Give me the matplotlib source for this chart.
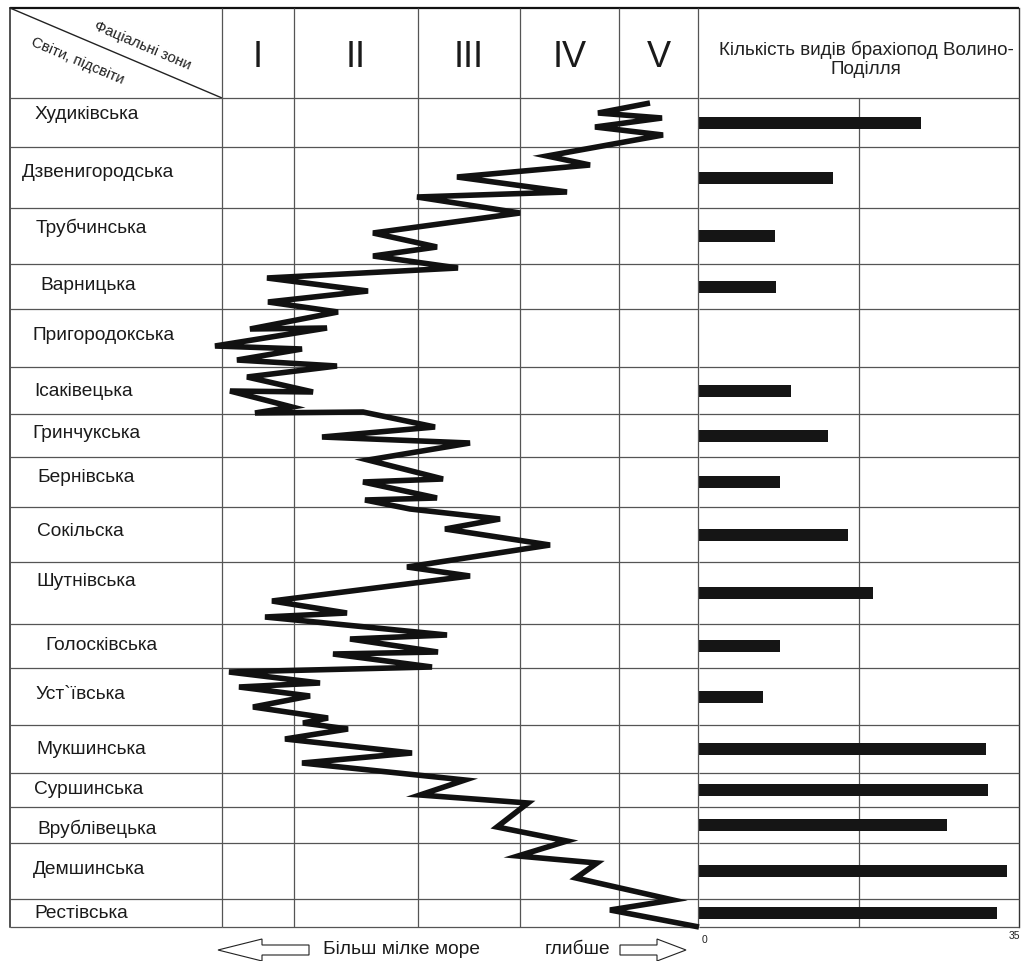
import matplotlib
matplotlib.use('Agg')
import matplotlib.pyplot as plt
from matplotlib.patches import Polygon

plt.rcParams['font.family'] = ['Liberation Sans', 'DejaVu Sans']

# ---------------- data ----------------
formations = ['Худиківська', 'Дзвенигородська', 'Трубчинська', 'Варницька',
              'Пригородокська', 'Ісаківецька', 'Гринчукська', 'Бернівська',
              'Сокільска', 'Шутнівська', 'Голосківська', 'Уст`ївська',
              'Мукшинська', 'Суршинська', 'Врублівецька', 'Демшинська', 'Рестівська']
# stratigraphic scale (top = 0), boundaries between formations
row_edges = [0, 49, 110, 166, 211, 269, 316, 359, 409, 464, 526, 570,
             627, 675, 709, 745, 801, 829]
# number of brachiopod species (scale 0..35)
species = [24.3, 14.7, 8.3, 8.4, 0, 10.1, 14.1, 8.9, 16.3, 19.0, 8.9, 7.0,
           31.4, 31.6, 27.1, 33.7, 32.6]
zones = ['I', 'II', 'III', 'IV', 'V']
zone_edges = [0, 72, 196, 298, 397, 476]      # relative depth scale of facies zones
# facies curve (relative depth, stratigraphic position)
curve_x = [428, 376, 440, 373, 441, 325, 368, 235, 345, 195, 298, 151, 215, 151,
           236, 45, 146, 46, 116, 28, 105, -7, 80, 15, 115, 25, 91, 8, 70, 33,
           141, 213, 100, 248, 146, 221, 141, 215, 143, 188, 278, 223, 328, 185,
           248, 50, 125, 43, 225, 128, 216, 111, 210, 7, 98, 17, 88, 31, 106, 81,
           126, 63, 190, 80, 243, 198, 306, 275, 345, 296, 375, 354, 451, 388, 477]
curve_y = [5, 15, 20, 29, 37, 58, 67, 79, 94, 99, 115, 135, 149, 158,
           170, 180, 193, 204, 214, 231, 230, 248, 251, 262, 268, 279, 294, 293, 309, 315,
           314, 329, 339, 345, 362, 381, 384, 400, 402, 411, 421, 431, 447, 469,
           478, 503, 515, 519, 537, 541, 554, 556, 569, 574, 585, 589, 598, 609, 620, 625,
           631, 641, 655, 665, 682, 697, 705, 729, 743, 758, 765, 780, 802, 812, 829]
species_max = 35

# ---------------- layout ----------------
W, H = 1023, 961
fig = plt.figure(figsize=(W / 100, H / 100), dpi=100)
fig.patch.set_facecolor('white')

def px_axes(x0, y0, x1, y1, z=1):
    ax = fig.add_axes([x0 / W, 1 - y1 / H, (x1 - x0) / W, (y1 - y0) / H], zorder=z)
    ax.set_facecolor('none')
    ax.set_xticks([]); ax.set_yticks([])
    for s in ax.spines.values():
        s.set_visible(False)
    return ax

TOP, HB, BOT, L, R, ZL, ZR, BL = 8, 98, 927, 10, 1019, 222, 698, 699
HDR = HB - TOP
GRID = '#555555'
GLW = 0.9
FS = 13.8

lay = px_axes(0, 0, W, H, z=0)
lay.set_xlim(0, W); lay.set_ylim(H, 0)

ax_n = px_axes(L, HB, ZL, BOT, z=2)
ax_z = px_axes(ZL, HB, ZR, BOT, z=3)
ax_b = px_axes(BL, HB, R, BOT, z=2)
total = row_edges[-1]
for ax in (ax_n, ax_z, ax_b):
    ax.set_ylim(total, 0)
ax_n.set_xlim(0, ZL - L)
ax_z.set_xlim(zone_edges[0], zone_edges[-1])
ax_b.set_xlim(0, species_max)

# outer frame & header
lay.plot([L, R], [TOP, TOP], color='#111111', lw=1.6, solid_capstyle='butt')
lay.plot([L, L], [TOP, BOT], color='#222222', lw=1.1)
lay.plot([R, R], [TOP, BOT], color='#333333', lw=1.0)
lay.plot([L, ZL], [TOP, HB], color='#222222', lw=1.0)

# row lines
for ax in (ax_n, ax_z, ax_b):
    ax.hlines(row_edges, *ax.get_xlim(), color=GRID, lw=GLW, clip_on=False)

# zone column lines (extend into header)
ax_z.vlines(zone_edges, -HDR, total, color=GRID, lw=GLW, clip_on=False)
ax_b.axvline(species_max / 2, color=GRID, lw=GLW)

# zone labels
zcent = [(a + b) / 2 for a, b in zip(zone_edges[:-1], zone_edges[1:])]
for zc, zl in zip(zcent, zones):
    ax_z.text(zc, -HDR / 2 + 4, zl, ha='center', va='center', fontsize=26,
              color='#1a1a1a', clip_on=False)

# header texts
lay.text(142, 46, 'Фаціальні зони', rotation=-23, rotation_mode='anchor',
         ha='center', va='center', fontsize=10.8, color='#222222')
lay.text(78, 61, 'Світи, підсвіти', rotation=-23, rotation_mode='anchor',
         ha='center', va='center', fontsize=10.8, color='#222222')
ax_b.text(species_max / 2 + 0.8, -HDR / 2 + 6, 'Кількість видів брахіопод Волино-\nПоділля',
          ha='center', va='center', fontsize=13.6, color='#222222', linespacing=1.15,
          clip_on=False)

# formation names
name_x = [25, 12, 26, 30, 23, 24, 22, 27, 27, 26, 35, 25, 26, 24, 27, 23, 24]
name_dy = [-8, -5, -8, -1, -3, 1, -2, -5, -3, -12, 0, -2, 0, 0, 4, -2, 1]
for i, nm in enumerate(formations):
    yc = (row_edges[i] + row_edges[i + 1]) / 2 + name_dy[i]
    ax_n.text(name_x[i], yc, nm, ha='left', va='center', fontsize=FS, color='#1a1a1a')

# facies curve
ax_z.plot(curve_x, curve_y, color='#111111', lw=4.0, solid_joinstyle='miter',
          solid_capstyle='butt', clip_on=False, zorder=5)

# species bars
bar_y = [(a + b) / 2 for a, b in zip(row_edges[:-1], row_edges[1:])]
ax_b.barh(bar_y, species, height=12, left=0, color='#151515', zorder=3)

# axis labels of bar scale
ax_b.text(0.3, total + 13, '0', ha='left', va='center', fontsize=7.5, color='#222222', clip_on=False)
ax_b.text(species_max - 0.5, total + 9, '35', ha='center', va='center', fontsize=7.5,
          color='#222222', clip_on=False)

# bottom arrows and captions
def arrow(tail, tip, base, yc):
    pts = [(tail, yc - 5), (base, yc - 5), (base, yc - 11), (tip, yc),
           (base, yc + 11), (base, yc + 5), (tail, yc + 5)]
    lay.add_patch(Polygon(pts, closed=True, facecolor='white', edgecolor='#222222', lw=0.8))

arrow(309, 218, 262, 950)
arrow(620, 686, 657, 950)
lay.text(323, 949, 'Більш мілке море', ha='left', va='center', fontsize=FS, color='#1a1a1a')
lay.text(545, 949, 'глибше', ha='left', va='center', fontsize=FS, color='#1a1a1a')

fig.savefig('out.png', dpi=100, facecolor='white')
